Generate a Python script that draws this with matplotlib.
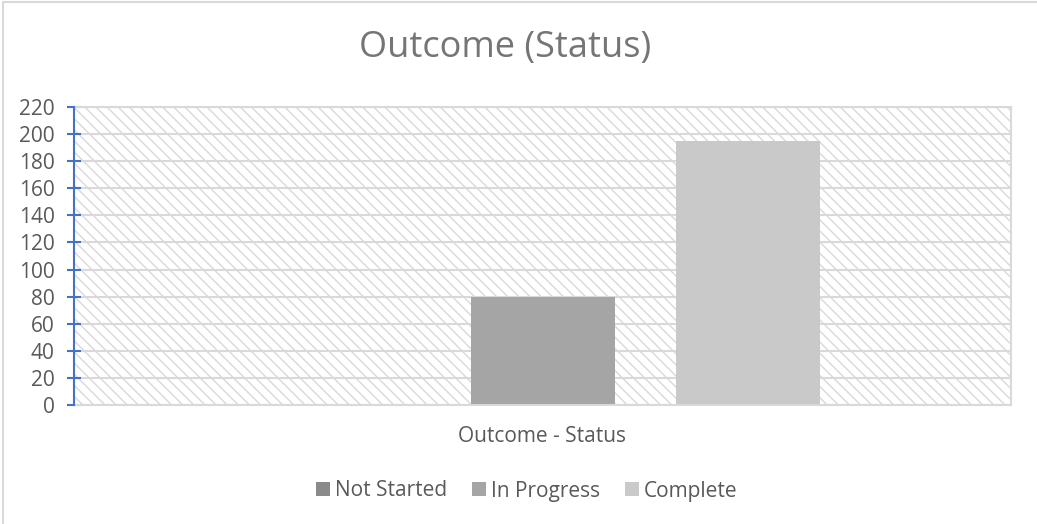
import matplotlib
matplotlib.use('Agg')
import matplotlib.pyplot as plt
from matplotlib.patches import Rectangle
import numpy as np

# data
categories = ['Outcome - Status']
series_names = ['Not Started', 'In Progress', 'Complete']
series_values = [0, 80, 195]
series_colors = ['#8a8a8a', '#a5a5a5', '#c9c9c9']
y_ticks = list(range(0, 221, 20))

plt.rcParams['font.family'] = ['Open Sans', 'DejaVu Sans']
plt.rcParams['hatch.linewidth'] = 1.0

fig = plt.figure(figsize=(10.37, 5.24), dpi=100)
ax = fig.add_axes([74 / 1037, 1 - 405 / 524, (1011 - 74) / 1037, (405 - 107) / 524])

# chart border (Excel style)
fig.patches.append(Rectangle((3 / 1037, -0.05), 1.2, 1.05 - 1.5 / 524,
                             transform=fig.transFigure, fill=False,
                             edgecolor='#d9d9d9', lw=1.5, zorder=0))

# hatched plot area
ax.set_facecolor('white')
ax.add_patch(Rectangle((0, 0), 1, 1, transform=ax.transAxes, facecolor='white',
                       edgecolor='#d9d9d9', hatch='\\\\\\', lw=0, zorder=0))

x = np.arange(len(categories))
bar_w = 144 / 937
step = 205 / 937
bars = []
for i, (name, val, col) in enumerate(zip(series_names, series_values, series_colors)):
    b = ax.bar(x + (i - 1) * step, [val], width=bar_w, color=col, label=name, zorder=2)
    bars.append(b)

ax.set_xlim(-0.5, 0.5)
ax.set_ylim(0, 220)
ax.set_yticks(y_ticks)
ax.set_xticks(x)
ax.set_xticklabels(categories)

ax.set_axisbelow(True)
ax.yaxis.grid(True, color='#d9d9d9', lw=1.5, zorder=1)

for s in ['top', 'right', 'bottom']:
    ax.spines[s].set_color('#d9d9d9')
    ax.spines[s].set_linewidth(1.5)
ax.spines['left'].set_color('#4472c4')
ax.spines['left'].set_linewidth(1.5)
ax.spines['left'].set_zorder(3)

ax.tick_params(axis='y', direction='inout', length=10, width=1.5, color='#4472c4',
               labelsize=15, labelcolor='#595959', pad=9)
ax.tick_params(axis='x', length=0, labelsize=15, labelcolor='#595959', pad=15)

fig.text(505 / 1037, 1 - 48 / 524, 'Outcome (Status)', ha='center', va='center',
         fontsize=26, color='#757575')

fig.legend(handles=[b[0] for b in bars], labels=series_names, loc='center',
           bbox_to_anchor=(527 / 1037, 1 - 491 / 524), ncol=3, frameon=False,
           fontsize=15, labelcolor='#595959', handlelength=0.65, handleheight=0.65,
           handletextpad=0.25, columnspacing=1.2)

fig.savefig('out.png', dpi=100)
